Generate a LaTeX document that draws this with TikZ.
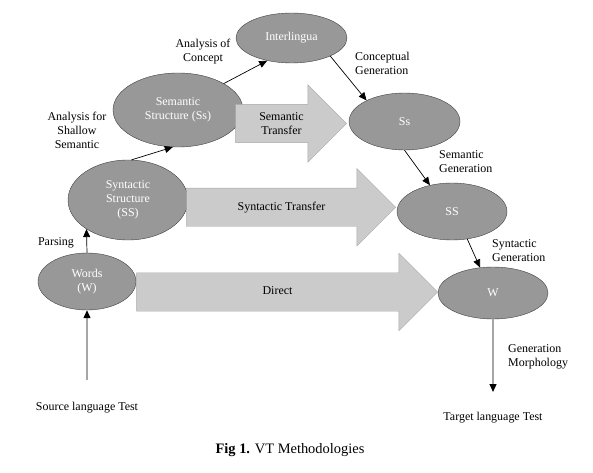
\documentclass[tikz,border=0pt]{standalone}
\usepackage{fontspec}
\setmainfont{Liberation Serif}
\usepackage{xcolor}
\usepackage{tikz}
\usetikzlibrary{shapes,arrows.meta,positioning}
\definecolor{levelfill}{RGB}{152,152,152}
\definecolor{levelline}{RGB}{64,64,64}
\definecolor{transferfill}{RGB}{203,203,203}
\definecolor{transferline}{RGB}{168,168,168}

\begin{document}
\begin{tikzpicture}[
    x=1bp, y=-1bp,
    font=\fontsize{12}{14}\selectfont,
    level/.style={ellipse, draw=levelline, fill=levelfill, text=white, align=center, inner sep=0pt},
    transfer/.style={single arrow, draw=transferline, fill=transferfill, single arrow head extend=19.5bp, minimum width=77bp, inner ysep=13.5bp, text height=8.5bp, text depth=2.5bp, align=center},
    tag/.style={align=center, inner sep=0pt},
    arrow/.style={-{Triangle[length=8bp,width=7bp]}, line width=0.7bp},
    feed/.style={draw=gray!70, line width=1.2bp, -{Triangle[length=8bp,width=7bp,black]}}
]
\useasboundingbox (0,0) rectangle (593,473);

% Analysis side
\node[level, minimum width=98bp, minimum height=57bp] (words) at (87,281.5) {Words\\(W)};
\node[level, minimum width=120bp, minimum height=80bp] (syn) at (128,200) {Syntactic\\Structure\\(SS)};
\node[level, minimum width=130bp, minimum height=74bp] (sem) at (178,110) {Semantic\\Structure (Ss)};
\node[level, minimum width=111bp, minimum height=50bp] (inter) at (291.5,38) {Interlingua};

% Generation side
\node[level, minimum width=111bp, minimum height=57bp] (outsem) at (404.5,121.5) {Ss};
\node[level, minimum width=110bp, minimum height=57bp] (outsyn) at (452,211.5) {SS};
\node[level, minimum width=110bp, minimum height=52bp] (outwords) at (493,293) {W};

% Transfer arrows
\node[transfer, minimum height=111bp, text height={}, text depth={}, inner ysep=8bp] (semtr) at (281.5,123.5) {Semantic\\Transfer};
\node[transfer, minimum height=209bp] (syntr) at (281.5,207.3) {Syntactic Transfer};
\node[transfer, minimum height=301bp] (direct) at (277.5,292) {Direct};

% Labels
\node[tag] (parsing) at (56,243) {Parsing};
\node[tag] (shallow) at (77,130) {Analysis for\\Shallow\\Semantic};
\node[tag] (concept) at (203,52) {Analysis of\\Concept};
\node[tag, anchor=west, align=left] (congen) at (355,63) {Conceptual\\Generation};
\node[tag, anchor=west, align=left] (semgen) at (439,161.5) {Semantic\\Generation};
\node[tag, anchor=west, align=left] (syngen) at (492,250.5) {Syntactic\\Generation};
\node[tag, anchor=west, align=left] (morph) at (508,356.5) {Generation\\Morphology};

% Source and target
\coordinate (src) at (87,380);
\coordinate (tgt) at (493,392);
\node[tag, below=22bp of src] (srclang) {Source language Test};
\node[tag, below=20bp of tgt] (tgtlang) {Target language Test};

% Caption
\node[font=\fontsize{14.5}{16}\selectfont] (caption) at (290,450) {\textbf{Fig 1.} VT Methodologies};

% Arrows
\draw[feed] (src) -- (words);
\draw[arrow] (words.north) -- (syn.215);
\draw[arrow] (syn.85) -- (sem.262);
\draw[arrow] (sem.30) -- (inter.223);
\draw[arrow] (inter.335) -- (outsem.151);
\draw[arrow] (outsem.south) -- (outsyn.130);
\draw[arrow] (outsyn.299) -- (outwords.117);
\draw[feed] (outwords) -- (tgt);

\end{tikzpicture}
\end{document}
